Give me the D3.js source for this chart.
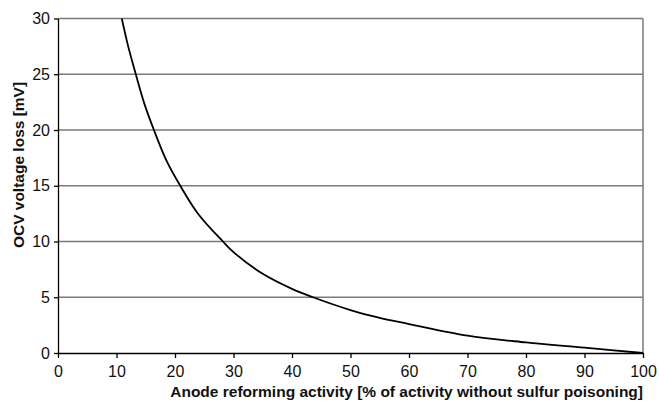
<!DOCTYPE html>
<meta charset="utf-8">
<style>
body { margin: 0; background: #fff; }
text { font-family: "Liberation Sans", Arial, sans-serif; }
.grid line { stroke: #7a7a7a; stroke-width: 1.5; }
.axis path, .axis line { stroke: #000; stroke-width: 1.3; }
.axis text { font-size: 16px; fill: #111; font-family: "Liberation Sans", Arial, sans-serif; }
.title { font-size: 15.5px; font-weight: bold; fill: #111; }
</style>
<svg width="659" height="402"></svg>
<script src="https://d3js.org/d3.v7.min.js"></script>
<script>

// activity [%] vs OCV loss [mV]
var activity = [10.9, 12.0, 13.3, 14.8, 16.4, 18.5, 20.9, 24.0, 28.2, 30, 35, 40, 43.6, 50, 55, 60, 70, 80, 90, 100];
var voltLoss = [30, 27.5, 25, 22.3, 20, 17.3, 15, 12.45, 10, 9.05, 7.1, 5.75, 5.0, 3.85, 3.15, 2.6, 1.55, 0.95, 0.48, 0];

var xTicks = [0, 10, 20, 30, 40, 50, 60, 70, 80, 90, 100];
var yTicks = [0, 5, 10, 15, 20, 25, 30];

var svg = d3.select("svg"),
    margin = {top: 18.5, right: 16, bottom: 49, left: 58},
    width = +svg.attr("width") - margin.left - margin.right,
    height = +svg.attr("height") - margin.top - margin.bottom;

var x = d3.scaleLinear().domain([0, 100]).range([0, width]);
var y = d3.scaleLinear().domain([0, 30]).range([height, 0]);

var g = svg.append("g")
    .attr("transform", "translate(" + margin.left + "," + margin.top + ")");

// horizontal grid
g.append("g")
    .attr("class", "grid")
  .selectAll("line")
  .data(yTicks.filter(function(d) { return d > 0; }))
  .enter().append("line")
    .attr("x1", 0)
    .attr("x2", width)
    .attr("y1", function(d) { return y(d); })
    .attr("y2", function(d) { return y(d); });

// right border
g.append("line")
    .attr("x1", width).attr("x2", width)
    .attr("y1", 0).attr("y2", height)
    .attr("stroke", "#7a7a7a")
    .attr("stroke-width", 1.5);

g.append("g")
    .attr("class", "axis")
    .attr("transform", "translate(0," + height + ")")
    .call(d3.axisBottom(x).tickValues(xTicks).tickSize(5).tickSizeOuter(0).tickPadding(8));

g.append("g")
    .attr("class", "axis")
    .call(d3.axisLeft(y).tickValues(yTicks).tickSize(4).tickSizeOuter(0).tickPadding(4));

var pts = activity.map(function(a, i) { return [a, voltLoss[i]]; });

g.append("path")
    .datum(pts)
    .attr("fill", "none")
    .attr("stroke", "#000")
    .attr("stroke-width", 1.8)
    .attr("d", d3.line()
      .x(function(d) { return x(d[0]); })
      .y(function(d) { return y(d[1]); })
      .curve(d3.curveCatmullRom.alpha(0.5)));

svg.append("text")
    .attr("class", "title")
    .attr("x", margin.left + width)
    .attr("y", 397)
    .attr("text-anchor", "end")
    .text("Anode reforming activity [% of activity without sulfur poisoning]");

svg.append("text")
    .attr("class", "title")
    .attr("transform", "translate(24,165) rotate(-90)")
    .attr("text-anchor", "middle")
    .text("OCV voltage loss [mV]");

</script>
